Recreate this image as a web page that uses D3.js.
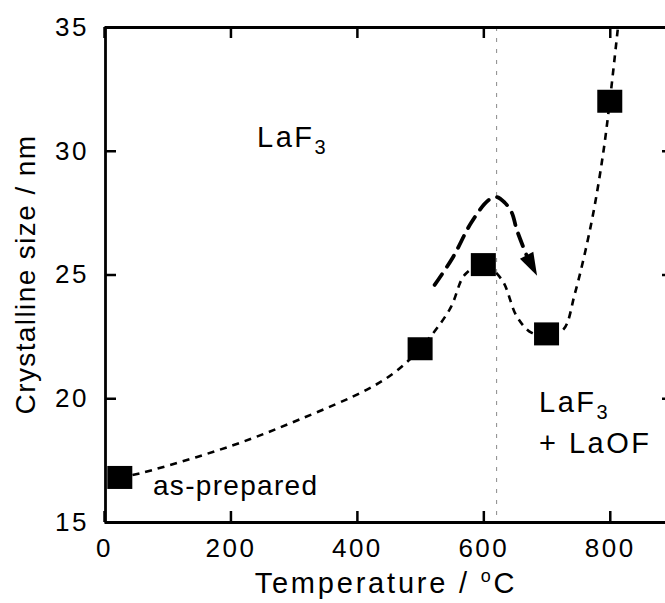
<!DOCTYPE html>
<html>
<head>
<meta charset="utf-8">
<script src="https://cdn.jsdelivr.net/npm/d3@7"></script>
<style>
  html, body { margin: 0; padding: 0; background: #fff; }
  svg { display: block; font-family: "Liberation Sans", Arial, Helvetica, sans-serif; }
</style>
</head>
<body>
<svg id="chart" width="665" height="603"></svg>
<script>
// ---- data ----
const temperatures = [25, 500, 600, 700, 800];
const sizes = [16.8, 22.0, 25.4, 22.6, 32.0];

// guide (fit) curve
const fitX = [25, 62, 204, 310, 416, 460, 500, 547, 571, 600, 629, 653, 676, 700, 726, 745, 771, 789, 800, 813];
const fitY = [16.8, 17.0, 18.1, 19.15, 20.35, 21.05, 22.0, 23.6, 25.0, 25.4, 24.8, 23.3, 22.65, 22.55, 22.76, 24.25, 27.1, 29.8, 32.0, 35.0];

// big dashed arrow (last point = arrow tip)
const arrowX = [523, 552, 581, 608, 621, 634, 645, 653, 668, 685];
const arrowY = [24.58, 25.7, 27.1, 28.0, 28.13, 27.9, 27.5, 26.8, 25.8, 24.95];

const phaseBoundary = 621;
const xTicks = [0, 200, 400, 600, 800];
const yTicks = [15, 20, 25, 30, 35];
const xDomain = [0, 900];
const yDomain = [15, 35];

(function () {
// ---- layout ----
const svg = d3.select("#chart");
const pL = 105, pR = 673, pT = 27, pB = 522;
const x = d3.scaleLinear().domain(xDomain).range([pL - 1, pR]);
const y = d3.scaleLinear().domain(yDomain).range([pB, pT]);

const defs = svg.append("defs");
defs.append("clipPath").attr("id", "plotclip")
  .append("rect").attr("x", pL).attr("y", pT).attr("width", pR - pL).attr("height", pB - pT);

// phase boundary dotted line
svg.append("line")
  .attr("x1", x(phaseBoundary)).attr("x2", x(phaseBoundary))
  .attr("y1", y(35)).attr("y2", y(15))
  .attr("stroke", "#8a8a8a").attr("stroke-width", 1)
  .attr("stroke-dasharray", "4,7");

const plot = svg.append("g").attr("clip-path", "url(#plotclip)");

// fit curve
const fitPts = fitX.map((d, i) => [d, fitY[i]]);
plot.append("path")
  .datum(fitPts)
  .attr("d", d3.line().x(d => x(d[0])).y(d => y(d[1])).curve(d3.curveCatmullRom.alpha(0.5)))
  .attr("fill", "none").attr("stroke", "#000").attr("stroke-width", 2.6)
  .attr("stroke-dasharray", "7,6");

// arrow: dashed body up to the head base, filled head to the tip
const arrPts = arrowX.map((d, i) => [d, arrowY[i]]);
const body = arrPts.slice(0, arrPts.length - 1);
svg.append("path")
  .datum(body)
  .attr("d", d3.line().x(d => x(d[0])).y(d => y(d[1])).curve(d3.curveCatmullRom.alpha(0.5)))
  .attr("fill", "none").attr("stroke", "#000").attr("stroke-width", 3.8)
  .attr("stroke-linecap", "round")
  .attr("stroke-dasharray", "13,9");
{
  const b = arrPts[arrPts.length - 2], t = arrPts[arrPts.length - 1];
  const bx = x(b[0]), by = y(b[1]), tx = x(t[0]), ty = y(t[1]);
  const dx = tx - bx, dy = ty - by, len = Math.hypot(dx, dy);
  const ux = dx / len, uy = dy / len;
  const hw = 7.5, hl = 23;
  const baseX = tx - ux * hl, baseY = ty - uy * hl;
  svg.append("path")
    .attr("d", `M${tx},${ty} L${baseX - uy * hw},${baseY + ux * hw} L${baseX + uy * hw},${baseY - ux * hw} Z`)
    .attr("fill", "#000");
}

// squares
const sqW = 25, sqH = 23;
svg.append("g").selectAll("rect")
  .data(temperatures.map((t, i) => [t, sizes[i]]))
  .join("rect")
  .attr("x", d => x(d[0]) - sqW / 2)
  .attr("y", d => y(d[1]) - sqH / 2)
  .attr("width", sqW).attr("height", sqH)
  .attr("fill", "#000");

// axes
function styleAxis(g, showLabels, fs) {
  g.select(".domain").attr("stroke", "#000").attr("stroke-width", 2.8);
  g.selectAll(".tick line").attr("stroke", "#000").attr("stroke-width", 2.5);
  if (!showLabels) g.selectAll(".tick text").remove();
  else g.selectAll(".tick text")
    .attr("font-size", fs).attr("fill", "#000")
    .attr("font-family", "Liberation Sans, Arial, sans-serif")
    .style("letter-spacing", "2.5px");
}

svg.append("g").attr("transform", `translate(0,${pB})`)
  .call(d3.axisBottom(x).tickValues(xTicks).tickSize(-11).tickSizeOuter(0).tickPadding(17).tickFormat(d3.format("d")))
  .call(g => styleAxis(g, true, 26));
svg.append("g").attr("transform", `translate(0,${pT})`)
  .call(d3.axisTop(x).tickValues(xTicks).tickSize(-11).tickSizeOuter(0))
  .call(g => styleAxis(g, false));
svg.append("g").attr("transform", `translate(${pL},0)`)
  .call(d3.axisLeft(y).tickValues(yTicks).tickSize(-11).tickSizeOuter(0).tickPadding(16).tickFormat(d3.format("d")))
  .call(g => styleAxis(g, true, 26));
svg.append("g").attr("transform", `translate(${pR},0)`)
  .call(d3.axisRight(y).tickValues(yTicks).tickSize(-11).tickSizeOuter(0))
  .call(g => styleAxis(g, false));

// axis titles
const xt = svg.append("text")
  .attr("x", 386).attr("y", 593)
  .attr("text-anchor", "middle").attr("font-size", 29)
  .style("letter-spacing", "2.8px");
xt.append("tspan").text("Temperature / ");
xt.append("tspan").text("o").attr("font-size", 18).attr("dy", -11);
xt.append("tspan").text("C").attr("dy", 11);

svg.append("text")
  .attr("transform", `translate(35,${(pT + pB) / 2}) rotate(-90)`)
  .attr("text-anchor", "middle").attr("font-size", 28)
  .style("letter-spacing", "1.4px")
  .text("Crystalline size / nm");

// annotations
function laf3(xp, yp) {
  const t = svg.append("text").attr("x", xp).attr("y", yp).attr("font-size", 29)
    .style("letter-spacing", "2.5px");
  t.append("tspan").text("LaF");
  t.append("tspan").text("3").attr("font-size", 20).attr("dy", 7);
  return t;
}
laf3(257, 147);
laf3(539, 412);
svg.append("text").attr("x", 539).attr("y", 453).attr("font-size", 29)
  .style("letter-spacing", "2.5px").text("+ LaOF");
svg.append("text").attr("x", 153).attr("y", 495).attr("font-size", 28)
  .style("letter-spacing", "1.3px").text("as-prepared");
})();
</script>
</body>
</html>
